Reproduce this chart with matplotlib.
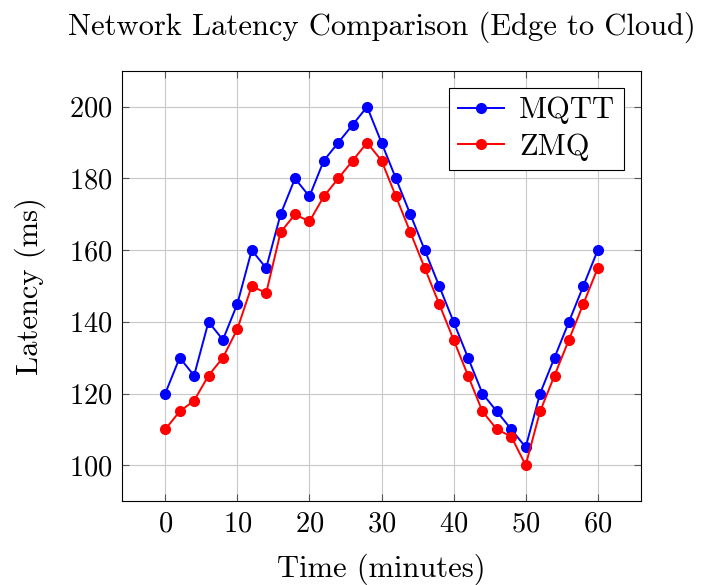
import matplotlib
matplotlib.use("Agg")
import matplotlib.pyplot as plt

# Latency samples every 2 minutes
minutes = list(range(0, 61, 2))
mqtt_ms = [120, 130, 125, 140, 135, 145, 160, 155, 170, 180, 175, 185, 190, 195, 200,
           190, 180, 170, 160, 150, 140, 130, 120, 115, 110, 105, 120, 130, 140, 150, 160]
zmq_ms = [110, 115, 118, 125, 130, 138, 150, 148, 165, 170, 168, 175, 180, 185, 190,
          185, 175, 165, 155, 145, 135, 125, 115, 110, 108, 100, 115, 125, 135, 145, 155]

plt.rcParams["font.family"] = ["cmr10", "DejaVu Serif"]
plt.rcParams["mathtext.fontset"] = "cm"
plt.rcParams["axes.formatter.use_mathtext"] = True

fig = plt.figure(figsize=(7.01, 5.85), dpi=100)
ax = fig.add_axes([122 / 701, 1 - 501 / 585, (641 - 122) / 701, (501 - 71) / 585])

ax.plot(minutes, mqtt_ms, color="blue", marker="o", markersize=7, linewidth=1.4, label="MQTT")
ax.plot(minutes, zmq_ms, color="red", marker="o", markersize=7, linewidth=1.4, label="ZMQ")

ax.set_xlim(-6, 66)
ax.set_ylim(90, 210)
ax.set_xticks(range(0, 61, 10))
ax.set_yticks(range(100, 201, 20))
ax.grid(True, color="#c8c8c8", linewidth=0.8)
ax.tick_params(direction="in", top=True, right=True, length=5, labelsize=20.5,
               color="#555555", pad=7)
for s in ax.spines.values():
    s.set_linewidth(0.8)

ax.set_xlabel("Time (minutes)", fontsize=22, labelpad=12)
ax.set_ylabel("Latency (ms)", fontsize=22, labelpad=16)
ax.set_title("Network Latency Comparison (Edge to Cloud)", fontsize=22, pad=26)

leg = ax.legend(loc="upper right", fontsize=22, fancybox=False, edgecolor="black",
                framealpha=1, borderpad=0.3, handlelength=1.5, handletextpad=0.5,
                labelspacing=0.3, borderaxespad=0.55)
leg.get_frame().set_linewidth(0.8)

fig.savefig("out.png", dpi=100)
